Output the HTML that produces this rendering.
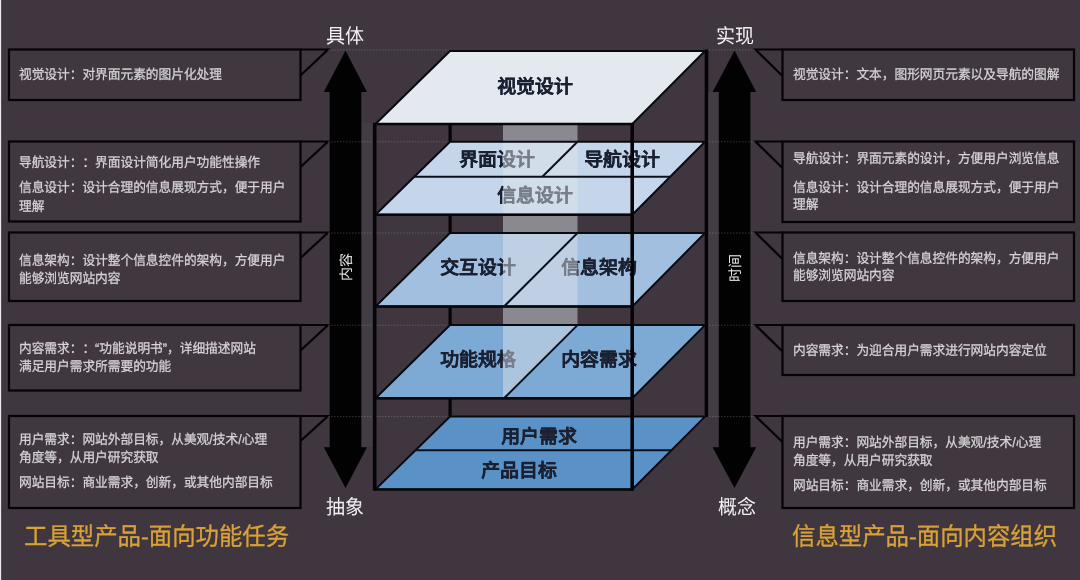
<!DOCTYPE html>
<html lang="zh-CN">
<head>
<meta charset="utf-8">
<title>用户体验要素</title>
<style>
  html, body { margin: 0; padding: 0; }
  body {
    width: 1080px; height: 580px; overflow: hidden; position: relative;
    background: #3f363f;
    font-family: "Liberation Sans", sans-serif;
    text-rendering: geometricPrecision;
  }
  #stage { position: absolute; left: 0; top: 0; width: 1080px; height: 580px; overflow: hidden; }
  svg { position: absolute; left: 0; top: 0; }
  .t { position: absolute; white-space: nowrap; margin: 0; line-height: 1; will-change: transform; }
  .note, .axis, .title { transform: scaleY(1.06); transform-origin: 50% 50%; }
  .note { color: #d6d4d7; font-size: 12.7px; line-height: 18px; height: 18px; text-spacing-trim: space-all; font-kerning: none; font-weight: 500; -webkit-text-stroke: 0.25px #d6d4d7; }
  .axis { color: #f1f0f1; font-weight: 500; font-size: 19px; line-height: 24px; height: 24px; width: 80px; text-align: center; }
  .title { color: #d9a236; font-weight: 500; -webkit-text-stroke: 0.3px #d9a236; font-size: 23.4px; line-height: 30px; height: 30px; }
  .pl { color: #1a2132; font-size: 18.9px; line-height: 24px; height: 24px; font-weight: 700; -webkit-text-stroke: 0.2px #1a2132; width: 120px; text-align: center; }
  .rot { color: #e4e3e5; font-size: 14px; line-height: 16px; height: 16px; width: 60px; text-align: center; transform: rotate(-90deg); transform-origin: 50% 50%; }
  #edge { position: absolute; left: 0; top: 0; width: 2px; height: 580px; background: linear-gradient(90deg, #eee8ee 0, #eee8ee 1px, #574f57 1px, #574f57 2px); }
</style>
</head>
<body>
<div id="stage">

<!-- ===== layer 1 : back verticals, planes, callout boxes, arrows ===== -->
<svg width="1080" height="580" viewBox="0 0 1080 580">
  <!-- callout boxes (left) -->
  <g fill="#40373f" stroke="#050305" stroke-width="2.2" stroke-linejoin="miter">
    <rect x="9" y="49.5" width="291.5" height="50.5"/>
    <rect x="9" y="141.5" width="291.5" height="80"/>
    <rect x="9" y="232.5" width="291.5" height="68.5"/>
    <rect x="9" y="325" width="291.5" height="65.5"/>
    <rect x="9" y="416" width="291.5" height="92"/>
    <rect x="782.5" y="49.5" width="291.5" height="50.5"/>
    <rect x="782.5" y="141.5" width="291.5" height="80.5"/>
    <rect x="782.5" y="232.5" width="291.5" height="68.5"/>
    <rect x="782.5" y="325" width="291.5" height="50"/>
    <rect x="782.5" y="416" width="291.5" height="92"/>
  </g>
  <!-- callout tabs -->
  <g fill="none" stroke="#050305" stroke-width="2.2">
    <path d="M300.5 49.5H328L300.5 75.5"/>
    <path d="M300.5 141.5H328L300.5 167"/>
    <path d="M300.5 232.5H328L300.5 258"/>
    <path d="M300.5 325H328L300.5 350.5"/>
    <path d="M300.5 416H328L300.5 441"/>
    <path d="M782.5 49.5H755.5L782.5 76"/>
    <path d="M782.5 141.5H755.5L782.5 168"/>
    <path d="M782.5 232.5H755.5L782.5 259"/>
    <path d="M782.5 325H755.5L782.5 351.5"/>
    <path d="M782.5 416H755.5L782.5 442"/>
  </g>

  <!-- back verticals of the cube -->
  <g stroke="#050305" fill="none">
    <line x1="450.1" y1="123" x2="450.1" y2="417" stroke-width="3.2"/>
    <line x1="706.5" y1="49.5" x2="706.5" y2="417" stroke-width="3.6"/>
  </g>

  <!-- planes (fills) -->
  <g stroke="none">
    <polygon points="450,51 705,51 632.3,124 375.5,124" fill="#e4e9f0"/>
    <polygon points="450,141.8 705,141.8 632.3,214.8 375.5,214.8" fill="#c6d6ea"/>
    <polygon points="450,233 705,233 632.3,306.5 375.5,306.5" fill="#a2bfe0"/>
    <polygon points="450,325.1 705,325.1 632.3,398.3 375.5,398.3" fill="#7da9d5"/>
    <polygon points="450,416.6 705,416.6 632.3,489.4 375.5,489.4" fill="#5a92c7"/>
  </g>

  <!-- narrow neutral strips between the arrows and the cube -->
  <g fill="#423d45">
    <rect x="361.3" y="123" width="11.6" height="324.2"/>
    <rect x="708.3" y="92" width="10.5" height="325"/>
  </g>

  <!-- arrows -->
  <g fill="#030203">
    <polygon points="345.5,50.5 367,92 361.3,92 361.3,447.2 367,447.2 345.5,488 323.8,447.2 329.7,447.2 329.7,92 323.8,92"/>
    <polygon points="734.5,50.5 756.2,92 750.4,92 750.4,447.2 756.2,447.2 734.5,488 712.6,447.2 718.8,447.2 718.8,92 712.6,92"/>
  </g>

  <!-- dotted guide lines -->
  <g stroke="#b9b6ba" stroke-width="1" stroke-dasharray="1.5 1.5" fill="none" opacity="0.28">
    <path d="M328 50H449"/>
    <path d="M328 141.8H449"/>
    <path d="M328 233H449"/>
    <path d="M328 325.2H449"/>
    <path d="M328 416.6H449"/>
    <path d="M709 50H755"/>
    <path d="M709 141.8H755"/>
    <path d="M709 233H755"/>
    <path d="M709 325.2H755"/>
    <path d="M709 416.6H755"/>
  </g>
</svg>

<!-- ===== plane labels ===== -->
<div class="t pl" style="left:474.5px; top:76px;">视觉设计</div>
<div class="t pl" style="left:436.5px; top:148.5px;">界面设计</div>
<div class="t pl" style="left:561.5px; top:148.5px;">导航设计</div>
<div class="t pl" style="left:475px; top:185px;">信息设计</div>
<div class="t pl" style="left:418px; top:256.5px;">交互设计</div>
<div class="t pl" style="left:538.5px; top:256.5px;">信息架构</div>
<div class="t pl" style="left:418px; top:349px;">功能规格</div>
<div class="t pl" style="left:538.5px; top:349px;">内容需求</div>
<div class="t pl" style="left:478.7px; top:425.5px;">用户需求</div>
<div class="t pl" style="left:458.8px; top:460px;">产品目标</div>

<!-- ===== layer 2 : translucent column, plane outlines, front verticals ===== -->
<svg width="1080" height="580" viewBox="0 0 1080 580">
  <!-- translucent column (only left of the diagonal on the 4th plane) -->
  <polygon points="503,125 577.5,125 577.5,325.1 504,398.3 503,398.3" fill="#e0e4ea" fill-opacity="0.48"/>
  <!-- plane outlines -->
  <g stroke="#080a12" stroke-linejoin="miter" fill="none" stroke-width="2">
    <polygon points="450,51 705,51 632.3,124 375.5,124"/>
    <polygon points="450,141.8 705,141.8 632.3,214.8 375.5,214.8"/>
    <polygon points="450,233 705,233 632.3,306.5 375.5,306.5"/>
    <polygon points="450,325.1 705,325.1 632.3,398.3 375.5,398.3"/>
    <polygon points="450,416.6 705,416.6 632.3,489.4 375.5,489.4"/>
  </g>
  <!-- slightly heavier lower edges -->
  <g stroke="#060709" stroke-width="2.4" fill="none">
    <path d="M374 124H633.5"/>
    <path d="M374 214.8H633.5"/>
    <path d="M374 306.5H633.5"/>
    <path d="M374 398.3H633.5"/>
    <path d="M374 489.4H633.5"/>
  </g>
  <!-- plane dividers -->
  <g stroke="#0b101a" stroke-width="2" fill="none">
    <path d="M414.3 176.8H670.1"/>
    <path d="M577.5 141.8L542.3 176.8"/>
    <path d="M577.5 233L504 306.5"/>
    <path d="M577.5 325.1L504 398.3"/>
    <path d="M415.5 450.3H671.3"/>
  </g>
  <!-- front verticals -->
  <g stroke="#050305" fill="none">
    <line x1="374.7" y1="123" x2="374.7" y2="490.6" stroke-width="3.6"/>
    <line x1="632.2" y1="123" x2="632.2" y2="490.6" stroke-width="3.6"/>
  </g>
</svg>

<!-- ===== axis labels ===== -->
<div class="t axis" style="left:304.5px; top:25.7px;">具体</div>
<div class="t axis" style="left:304.7px; top:497px;">抽象</div>
<div class="t axis" style="left:694.5px; top:26.3px;">实现</div>
<div class="t axis" style="left:696.5px; top:497px;">概念</div>
<div class="t rot" style="left:316px; top:259px;">内容</div>
<div class="t rot" style="left:705px; top:259.5px;">时间</div>

<!-- ===== left notes ===== -->
<div class="t note" style="left:19px; top:65.5px;">视觉设计：对界面元素的图片化处理</div>

<div class="t note" style="left:19px; top:153.5px;">导航设计：：界面设计简化用户功能性操作</div>
<div class="t note" style="left:19px; top:179px;">信息设计：设计合理的信息展现方式，便于用户</div>
<div class="t note" style="left:19px; top:197.5px;">理解</div>

<div class="t note" style="left:19px; top:252px;">信息架构：设计整个信息控件的架构，方便用户</div>
<div class="t note" style="left:19px; top:270px;">能够浏览网站内容</div>

<div class="t note" style="left:19px; top:339.5px;">内容需求：：“功能说明书”，详细描述网站</div>
<div class="t note" style="left:19px; top:358px;">满足用户需求所需要的功能</div>

<div class="t note" style="left:19px; top:431px;">用户需求：网站外部目标，从美观/技术/心理</div>
<div class="t note" style="left:19px; top:449px;">角度等，从用户研究获取</div>
<div class="t note" style="left:19px; top:474px;">网站目标：商业需求，创新，或其他内部目标</div>

<!-- ===== right notes ===== -->
<div class="t note" style="left:792.5px; top:65.5px;">视觉设计：文本，图形网页元素以及导航的图解</div>

<div class="t note" style="left:792.5px; top:149.5px;">导航设计：界面元素的设计，方便用户浏览信息</div>
<div class="t note" style="left:792.5px; top:178.5px;">信息设计：设计合理的信息展现方式，便于用户</div>
<div class="t note" style="left:792.5px; top:196px;">理解</div>

<div class="t note" style="left:792.5px; top:249.5px;">信息架构：设计整个信息控件的架构，方便用户</div>
<div class="t note" style="left:792.5px; top:267px;">能够浏览网站内容</div>

<div class="t note" style="left:792.5px; top:342px;">内容需求：为迎合用户需求进行网站内容定位</div>

<div class="t note" style="left:792.5px; top:434px;">用户需求：网站外部目标，从美观/技术/心理</div>
<div class="t note" style="left:792.5px; top:452px;">角度等，从用户研究获取</div>
<div class="t note" style="left:792.5px; top:476.5px;">网站目标：商业需求，创新，或其他内部目标</div>

<!-- ===== titles ===== -->
<div class="t title" style="left:24px; top:522px;">工具型产品-面向功能任务</div>
<div class="t title" style="left:792px; top:522px;">信息型产品-面向内容组织</div>

<div id="edge"></div>
</div>
</body>
</html>
